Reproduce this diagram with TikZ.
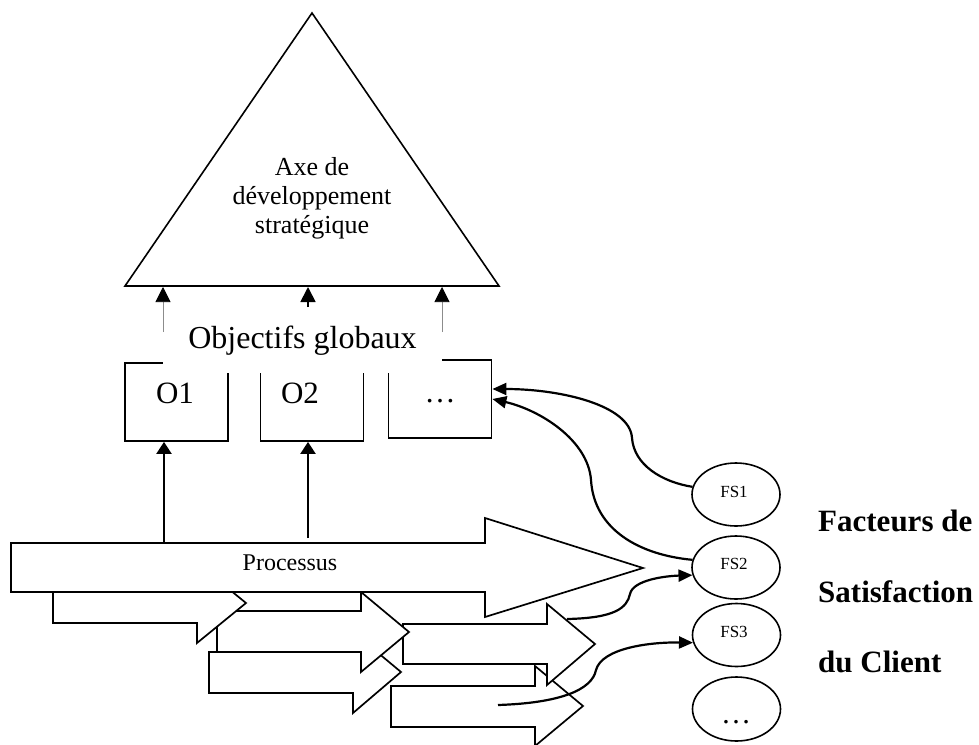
\documentclass[tikz,border=0pt]{standalone}
\usepackage{fontspec}
\setmainfont{Liberation Serif}
\usetikzlibrary{arrows.meta,shapes.geometric,calc}

\begin{document}
\begin{tikzpicture}[x=1pt,y=-1pt,
  blk/.style={draw=black, line width=1.7pt, fill=white, line join=miter},
  obox/.style={draw, rectangle, line width=1.8pt, minimum width=103pt, minimum height=78pt, inner sep=0pt},
  fsell/.style={draw, ellipse, line width=1.6pt, minimum width=88pt, minimum height=63pt, inner sep=0pt},
  lbl/.style={anchor=base, inner sep=0pt},
  up/.style={-{Triangle[length=12pt,width=15pt]}, line width=2.2pt},
  upthin/.style={-{Triangle[length=15pt,width=15pt,color=black]}, draw=black!45, line width=0.7pt},
  link/.style={-{Triangle[length=14pt,width=12pt]}, line width=2.2pt},
]
\useasboundingbox (0,0) rectangle (979,744);
\clip (0,0) rectangle (979,744);

% strategic axis
\coordinate (tl) at (125,286);
\coordinate (tr) at (499,286);
\coordinate (tt) at (312,13);
\draw[line width=1.6pt, line join=miter] (tl) -- (tr) -- (tt) -- cycle;
\node[lbl, font=\fontsize{26pt}{30pt}\selectfont] (ax1) at (312,175) {Axe de};
\node[lbl, font=\fontsize{26pt}{30pt}\selectfont] (ax2) at (312,204) {développement};
\node[lbl, font=\fontsize{26pt}{30pt}\selectfont] (ax3) at (312,233) {stratégique};

% objective boxes
\node[obox] (o1) at (176.5,402) {};
\node[obox] (o2) at (312,402) {};
\node[obox] (o3) at (440,399) {};
\node[lbl, font=\fontsize{31pt}{36pt}\selectfont] (o1t) at (175,403) {O1};
\node[lbl, font=\fontsize{31pt}{36pt}\selectfont] (o2t) at (300,403) {O2};
\node[lbl, font=\fontsize{31pt}{36pt}\selectfont] (o3t) at (440,402) {…};

% heading over the boxes
\node[fill=white, minimum width=279pt, minimum height=65pt, inner sep=0pt,
      font=\fontsize{32pt}{38pt}\selectfont] (obj) at (302.5,340.5) {Objectifs globaux};

% links up to the triangle
\coordinate (s1) at (163,332);
\coordinate (s2) at (308,307);
\coordinate (s3) at (442,332);
\coordinate (t1) at (163,287);
\coordinate (t2) at (308,287);
\coordinate (t3) at (442,287);
\draw[upthin] (s1) -- (t1);
\draw[upthin] (s3) -- (t3);
\draw[-{Triangle[length=15pt,width=15pt]}, line width=1.8pt] (s2) -- (t2);

% sub-process arrows (back to front)
\draw[blk] (209,652) -- (353,652) -- (353,632) -- (401,672) -- (353,713) -- (353,693) -- (209,693) -- cycle;
\draw[blk] (391,686) -- (535,686) -- (535,666) -- (583,706) -- (535,746) -- (535,727) -- (391,727) -- cycle;
\draw[blk] (403,624) -- (547,624) -- (547,604) -- (595,644) -- (547,685) -- (547,664) -- (403,664) -- cycle;
\draw[blk] (217,611) -- (361,611) -- (361,592) -- (409,632) -- (361,672) -- (361,652) -- (217,652) -- cycle;
\draw[blk] (53,583) -- (197,583) -- (197,563) -- (246,603) -- (197,643) -- (197,623) -- (53,623) -- cycle;

% main process arrow
\draw[blk] (11,543) -- (485,543) -- (485,518) -- (643,568) -- (485,617) -- (485,592) -- (11,592) -- cycle;
\node[lbl, font=\fontsize{24pt}{28pt}\selectfont] (proc) at (290,570) {Processus};

% process feeding the objectives
\coordinate (p1) at (164,543);
\coordinate (p2) at (308,538);
\draw[up] (p1) -- (p1 |- o1.south);
\draw[up] (p2) -- (p2 |- o2.south);

% satisfaction factors
\node[fsell] (fs1) at (736,494.5) {};
\node[fsell] (fs2) at (736,567.5) {};
\node[fsell] (fs3) at (736.5,635) {};
\node[fsell, minimum height=64pt] (fs4) at (736.5,709) {};
\node[lbl, font=\fontsize{17pt}{20pt}\selectfont] (fs1t) at (734,497) {FS1};
\node[lbl, font=\fontsize{17pt}{20pt}\selectfont] (fs2t) at (734,569) {FS2};
\node[lbl, font=\fontsize{17pt}{20pt}\selectfont] (fs3t) at (734,637) {FS3};
\node[lbl, font=\fontsize{30pt}{34pt}\selectfont] (fs4t) at (736,723) {…};

% curved links
\coordinate (dout) at (567,619);
\coordinate (eout) at (498,705);
\draw[link] (fs1.170) .. controls (662,482) and (634,465) .. (632,438)
  .. controls (630,405) and (560,389) .. ($(o3.east)+(0,-10)$);
\draw[link] (fs2.170) .. controls (640,555) and (594,530) .. (591,480)
  .. controls (588,440) and (540,410) .. (o3.east);
\draw[link] (dout) .. controls (615,618) and (627,608) .. (630,594)
  .. controls (633,580) and (665,576) .. (fs2.190);
\draw[link] (eout) .. controls (560,703) and (592,690) .. (596,670)
  .. controls (602,648) and (650,642) .. (fs3.190);

% caption on the right
\node[lbl, anchor=base west, font=\bfseries\fontsize{31pt}{36pt}\selectfont] (c1) at (818,531) {Facteurs de};
\node[lbl, anchor=base west, font=\bfseries\fontsize{31pt}{36pt}\selectfont] (c2) at (818,602) {Satisfaction};
\node[lbl, anchor=base west, font=\bfseries\fontsize{31pt}{36pt}\selectfont] (c3) at (818,672) {du Client};
\end{tikzpicture}
\end{document}
